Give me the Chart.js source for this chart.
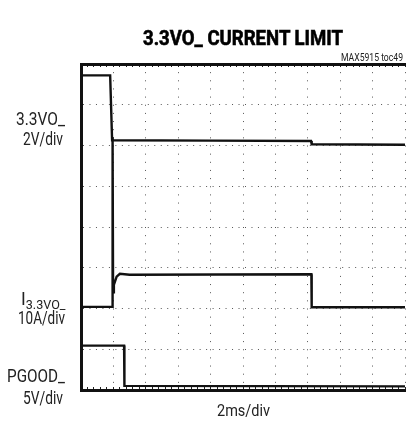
<!DOCTYPE html>
<html>
<head>
<meta charset="utf-8">
<script src="https://cdn.jsdelivr.net/npm/chart.js@4.4.0/dist/chart.umd.min.js"></script>
<style>
  body { margin: 0; background: #fff; }
  #wrap { position: relative; width: 406px; height: 423px; }
  #wrap canvas { position: absolute; left: 0; top: 0; }
  .lbl { position: absolute; font-family: "Roboto", "DejaVu Sans Condensed", sans-serif; color: #222; white-space: nowrap; line-height: 1em; transform-origin: 0 0; }
  .side { font-size: 18px; }
  .side sub { font-size: 13px; vertical-align: -4px; line-height: 0; }
  #title { -webkit-text-stroke: 0.6px #000; }
</style>
</head>
<body>
<div id="wrap">
  <canvas id="scope" width="406" height="423"></canvas>
  <div class="lbl" id="title" data-l="143" data-w="200" style="top:28px;font-size:20px;font-weight:bold;color:#000;">3.3VO_ CURRENT LIMIT</div>
  <div class="lbl" data-l="341" data-w="62" style="top:53px;font-size:10px;">MAX5915 toc49</div>
  <div class="lbl side" data-l="16" data-w="49" style="top:110px;">3.3VO_</div>
  <div class="lbl side" data-l="23" data-w="40" style="top:130px;">2V/div</div>
  <div class="lbl side" data-l="20.5" data-w="44.5" style="top:290px;">I<sub>3.3VO_</sub></div>
  <div class="lbl side" data-l="18" data-w="47" style="top:309px;">10A/div</div>
  <div class="lbl side" data-l="7" data-w="58" style="top:367px;">PGOOD_</div>
  <div class="lbl side" data-l="23" data-w="40" style="top:389px;">5V/div</div>
  <div class="lbl" data-l="217" data-w="53" style="top:403px;font-size:16px;">2ms/div</div>
</div>
<script>
// screen is 10 x 8 divisions, values in divisions
const voltX = [0, 0.90, 0.96, 4.0, 7.10, 7.12, 10];
const voltY = [7.72, 7.72, 6.13, 6.12, 6.11, 6.03, 6.02];

const currX = [0, 0.97, 0.975, 0.99, 1.015, 1.10, 1.20, 1.50, 7.11, 7.12, 10];
const currY = [2.04, 2.04, 6.20, 2.40, 2.58, 2.78, 2.85, 2.83, 2.84, 2.03, 2.03];

const pgoodX = [0, 1.33, 1.34, 10];
const pgoodY = [1.09, 1.09, 0.10, 0.09];

// squeeze the labels to the condensed widths of the original
document.querySelectorAll('.lbl').forEach((el) => {
  const w = el.getBoundingClientRect().width;
  el.style.left = el.dataset.l + 'px';
  el.style.transform = 'scaleX(' + (parseFloat(el.dataset.w) / w) + ')';
});

const toPoints = (xs, ys) => xs.map((x, i) => ({ x: x, y: ys[i] }));

const trace = (label, xs, ys) => ({
  label: label,
  data: toPoints(xs, ys),
  borderColor: '#111',
  borderWidth: 2.4,
  pointRadius: 0,
  tension: 0,
  fill: false
});

const isMajor = (v) => Math.abs(v - Math.round(v)) < 1e-6;

const canvas = document.getElementById('scope');
new Chart(canvas, {
  type: 'line',
  data: {
    datasets: [
      trace('3.3VO_', voltX, voltY),
      trace('I3.3VO_', currX, currY),
      trace('PGOOD_', pgoodX, pgoodY)
    ]
  },
  options: {
    responsive: false,
    animation: false,
    events: [],
    layout: { padding: { left: 81, right: 1, top: 64, bottom: 33 } },
    plugins: { legend: { display: false }, tooltip: { enabled: false }, title: { display: false } },
    scales: {
      x: {
        type: 'linear', position: 'bottom', min: 0, max: 10,
        ticks: { display: false, stepSize: 0.2, maxTicksLimit: 100 },
        grid: {
          color: (c) => isMajor(c.tick.value) ? '#555' : 'rgba(0,0,0,0)',
          lineWidth: 1,
          tickColor: '#222',
          tickLength: -3
        },
        border: { display: true, color: '#111', width: 3, dash: [1, 7.15] },
        afterFit: (s) => { s.height = 0; }
      },
      xTop: {
        type: 'linear', position: 'top', min: 0, max: 10,
        ticks: { display: false, stepSize: 0.2, maxTicksLimit: 100 },
        grid: { drawOnChartArea: false, tickColor: '#222', tickLength: -3 },
        border: { display: true, color: '#111', width: 3 },
        afterFit: (s) => { s.height = 0; }
      },
      y: {
        type: 'linear', position: 'left', min: 0, max: 8,
        ticks: { display: false, stepSize: 1 },
        grid: { color: '#555', lineWidth: 1, drawTicks: false },
        border: { display: true, color: '#111', width: 3, dash: [1, 5.48] },
        afterFit: (s) => { s.width = 0; }
      }
    }
  }
});
</script>
</body>
</html>
